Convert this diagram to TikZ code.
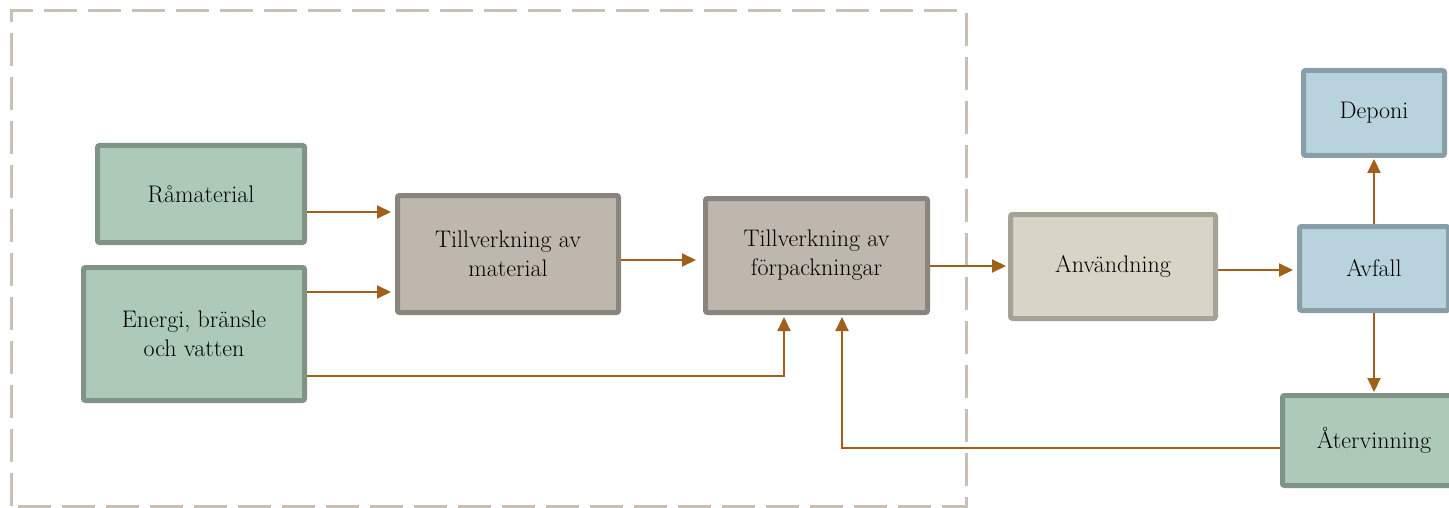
\documentclass[tikz,border=0pt]{standalone}
\usetikzlibrary{arrows.meta,calc}
\definecolor{gfill}{RGB}{173,202,185}
\definecolor{gdraw}{RGB}{127,148,135}
\definecolor{bfill}{RGB}{190,183,173}
\definecolor{bdraw}{RGB}{137,132,126}
\definecolor{afill}{RGB}{216,213,198}
\definecolor{adraw}{RGB}{165,163,152}
\definecolor{lfill}{RGB}{184,211,221}
\definecolor{ldraw}{RGB}{137,158,166}
\definecolor{arrc}{RGB}{160,96,26}
\definecolor{dashc}{RGB}{200,192,181}
\tikzset{
  box/.style={rectangle, rounded corners=2pt, line width=5pt, inner sep=0pt, align=center,
    font=\fontsize{24}{29}\selectfont},
  gbox/.style={box, fill=gfill, draw=gdraw},
  bbox/.style={box, fill=bfill, draw=bdraw},
  abox/.style={box, fill=afill, draw=adraw},
  lbox/.style={box, fill=lfill, draw=ldraw},
  arr/.style={draw=arrc, line width=2pt, -{Triangle[length=14pt,width=13pt]}, shorten >=4pt},
}
\begin{document}
\begin{tikzpicture}[x=1pt,y=-1pt]
\useasboundingbox (0,0) rectangle (1449,508);
\clip (0,0) rectangle (1449,508);
\draw[dashc, line width=3pt, dash pattern=on 33pt off 11pt] (11,506) -- (11,11) -- (966,11) -- (966,506) -- cycle;

\node[gbox, minimum width=207pt, minimum height=97pt] (ram) at (201,194) {Råmaterial};
\node[gbox, minimum width=221pt, minimum height=133pt] (ene) at (194,334) {Energi, bränsle\\och vatten};
\node[bbox, minimum width=221pt, minimum height=117pt] (tvm) at (508,254) {Tillverkning av\\material};
\node[bbox, minimum width=222pt, minimum height=114pt] (tvf) at (816.5,255.5) {Tillverkning av\\förpackningar};
\node[abox, minimum width=205pt, minimum height=104pt] (anv) at (1113,266.5) {Användning};
\node[lbox, minimum width=141pt, minimum height=85pt] (dep) at (1374,113) {Deponi};
\node[lbox, minimum width=149pt, minimum height=84pt] (avf) at (1374,268.5) {Avfall};
\node[gbox, minimum width=183pt, minimum height=90pt] (ate) at (1374,440.5) {Återvinning};

\coordinate (c1) at ($(ram.east)+(0,18)$);
\coordinate (c2) at ($(ene.east)+(0,-42)$);
\coordinate (c3) at ($(ene.east)+(0,42)$);
\coordinate (c4) at ($(tvm.east)+(0,6)$);
\coordinate (c5) at ($(tvf.east)+(0,10.5)$);
\coordinate (c6) at ($(anv.east)+(0,3.5)$);
\coordinate (c7) at ($(ate.west)+(0,7.5)$);
\coordinate (k3) at (784,0);
\coordinate (k7) at (842,0);

\draw[arr] (c1) -- (c1 -| tvm.west);
\draw[arr] (c2) -- (c2 -| tvm.west);
\draw[arr, shorten >=2pt] (c3) -| (k3 |- tvf.south);
\draw[arr, shorten >=7pt] (c4) -- (c4 -| tvf.west);
\draw[arr, shorten >=2pt] (c5) -- (c5 -| anv.west);
\draw[arr] (c6) -- (c6 -| avf.west);
\draw[arr, shorten >=1pt] (avf.north) -- (dep.south);
\draw[arr, shorten >=1pt] (avf.south) -- (ate.north);
\draw[arr, shorten >=2pt] (c7) -| (k7 |- tvf.south);
\end{tikzpicture}
\end{document}
